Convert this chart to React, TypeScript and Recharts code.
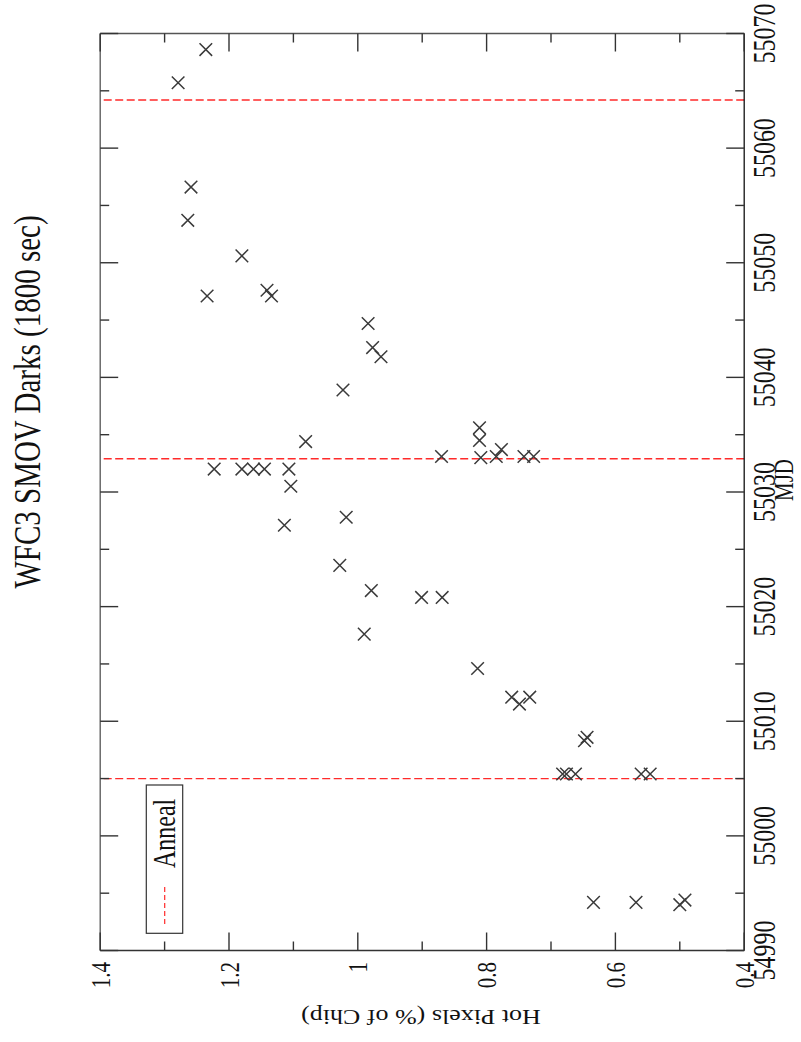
import React from 'react';
import { ScatterChart, Scatter, XAxis, YAxis, ReferenceLine } from 'recharts';

// MJD of each dark frame and its hot pixel fraction (% of chip)
const mjd = [
  55068.6, 55065.7, 55056.6, 55053.7, 55050.6, 55047.1, 55047.6, 55047.1, 55044.7, 55042.6,
  55041.8, 55038.9, 55034.4, 55032.0, 55032.0, 55032.0, 55032.0, 55032.0, 55030.5, 55027.1,
  55027.8, 55023.6, 55021.4, 55020.8, 55017.6, 55020.8, 55033.1, 55035.6, 55034.5, 55033.0,
  55033.1, 55033.7, 55033.1, 55033.1, 55014.6, 55012.1, 55011.5, 55012.1, 55008.3, 55008.6,
  55005.4, 55005.4, 55005.4, 55005.4, 55005.4, 54994.2, 54994.2, 54994.0, 54994.4,
];
const hotPixels = [
  1.236, 1.279, 1.259, 1.264, 1.180, 1.234, 1.141, 1.134, 0.984, 0.977,
  0.964, 1.023, 1.081, 1.223, 1.180, 1.162, 1.145, 1.107, 1.104, 1.114,
  1.018, 1.028, 0.979, 0.901, 0.990, 0.869, 0.870, 0.811, 0.811, 0.809,
  0.785, 0.777, 0.742, 0.727, 0.814, 0.761, 0.749, 0.733, 0.648, 0.644,
  0.682, 0.676, 0.662, 0.560, 0.546, 0.634, 0.568, 0.500, 0.492,
];
const annealMjd = [55005.0, 55032.9, 55064.2];
const mjdTicks = [
  54990, 54995, 55000, 55005, 55010, 55015, 55020, 55025, 55030,
  55035, 55040, 55045, 55050, 55055, 55060, 55065, 55070,
];
const hotTicks = [0.4, 0.5, 0.6, 0.7, 0.8, 0.9, 1.0, 1.1, 1.2, 1.3, 1.4];

const points = mjd.map((m, i) => ({ mjd: m, hot: hotPixels[i] }));

const FONT = '"Liberation Serif", "Times New Roman", serif';
const AXIS = '#333';
const RED = '#ff2a2a';
const STRETCH = 'scale(1,1.3)';

const Cross = (props: any) => {
  const { cx, cy } = props;
  const r = 6.3;
  return (
    <path
      d={`M${cx - r},${cy - r}L${cx + r},${cy + r}M${cx - r},${cy + r}L${cx + r},${cy - r}`}
      stroke="#3a3a3a"
      strokeWidth={1.5}
      fill="none"
    />
  );
};

const mjdTick = (side: 'bottom' | 'top') => (p: any) => {
  const v = p.payload.value;
  const major = Math.round(v) % 10 === 0;
  const len = major ? 18 : 9;
  const dir = side === 'bottom' ? -1 : 1;
  return (
    <g key={`${side}-${v}`}>
      <line x1={p.x} y1={p.y} x2={p.x} y2={p.y + dir * len} stroke={AXIS} strokeWidth={1.4} />
      {side === 'bottom' && major && (
        <text
          transform={`translate(${p.x},${p.y + 31}) ${STRETCH}`}
          textAnchor="middle"
          fontFamily={FONT}
          fontSize={24}
          fill="#111"
        >
          {v}
        </text>
      )}
    </g>
  );
};

const hotTick = (side: 'left' | 'right') => (p: any) => {
  const v = p.payload.value;
  const major = Math.round(v * 10) % 2 === 0;
  const len = major ? 18 : 9;
  const dir = side === 'left' ? 1 : -1;
  return (
    <g key={`${side}-${v}`}>
      <line x1={p.x} y1={p.y} x2={p.x + dir * len} y2={p.y} stroke={AXIS} strokeWidth={1.4} />
      {side === 'left' && major && (
        <text
          transform={`translate(${p.x - 11.5},${p.y}) ${STRETCH}`}
          textAnchor="end"
          dy="0.35em"
          fontFamily={FONT}
          fontSize={21}
          fill="#111"
        >
          {String(Math.round(v * 10) / 10)}
        </text>
      )}
    </g>
  );
};

// The plot is drawn landscape and then turned a quarter turn, like the original figure.
export default function App() {
  return (
    <div style={{ position: 'absolute', left: 0, top: 0, width: 801, height: 1042, overflow: 'hidden', background: '#fff' }}>
      <div
        style={{
          position: 'absolute',
          left: 0,
          top: 0,
          width: 1042,
          height: 801,
          transformOrigin: '0 0',
          transform: 'translate(0px, 1042px) rotate(-90deg)',
        }}
      >
        <ScatterChart width={1042} height={801} margin={{ top: 99.2, right: 32.5, bottom: 16.8, left: 31.5 }}>
          <XAxis
            xAxisId="b"
            dataKey="mjd"
            type="number"
            domain={[54990, 55070]}
            ticks={mjdTicks}
            interval={0}
            height={40}
            tickLine={false}
            tickSize={0}
            tickMargin={0}
            tick={mjdTick('bottom')}
            axisLine={{ stroke: '#111', strokeWidth: 1.3 }}
            allowDataOverflow
          />
          <XAxis
            xAxisId="t"
            dataKey="mjd"
            orientation="top"
            type="number"
            domain={[54990, 55070]}
            ticks={mjdTicks}
            interval={0}
            height={1}
            tickLine={false}
            tickSize={0}
            tickMargin={0}
            tick={mjdTick('top')}
            axisLine={{ stroke: '#555', strokeWidth: 1.3 }}
            allowDataOverflow
          />
          <YAxis
            yAxisId="l"
            dataKey="hot"
            type="number"
            domain={[0.4, 1.4]}
            ticks={hotTicks}
            interval={0}
            width={60}
            tickLine={false}
            tickSize={0}
            tickMargin={0}
            tick={hotTick('left')}
            axisLine={{ stroke: AXIS, strokeWidth: 1.3 }}
            allowDataOverflow
          />
          <YAxis
            yAxisId="r"
            dataKey="hot"
            orientation="right"
            type="number"
            domain={[0.4, 1.4]}
            ticks={hotTicks}
            interval={0}
            width={1}
            tickLine={false}
            tickSize={0}
            tickMargin={0}
            tick={hotTick('right')}
            axisLine={{ stroke: '#555', strokeWidth: 1.3 }}
            allowDataOverflow
          />
          {annealMjd.map((m) => (
            <ReferenceLine
              key={m}
              x={m}
              xAxisId="b"
              yAxisId="l"
              stroke={RED}
              strokeWidth={1.3}
              strokeDasharray="8 3.5"
            />
          ))}
          {/* same points on the mirror axes, drawn invisibly so the top/right frame gets its ticks */}
          <Scatter
            data={points}
            xAxisId="t"
            yAxisId="r"
            shape={() => <g />}
            isAnimationActive={false}
          />
          <Scatter
            data={points}
            xAxisId="b"
            yAxisId="l"
            shape={Cross}
            isAnimationActive={false}
          />
        </ScatterChart>
        <svg
          width={1042}
          height={801}
          style={{ position: 'absolute', left: 0, top: 0, pointerEvents: 'none' }}
        >
          <text
            transform={`translate(640,40) ${STRETCH}`}
            textAnchor="middle"
            fontFamily={FONT}
            fontSize={29}
            fill="#111"
          >
            WFC3 SMOV Darks (1800 sec)
          </text>
          <text
            transform={`translate(562,793) ${STRETCH}`}
            textAnchor="middle"
            fontFamily={FONT}
            fontSize={21}
            fill="#111"
          >
            MJD
          </text>
          <text
            transform={`translate(32,421) ${STRETCH} rotate(-90)`}
            textAnchor="middle"
            fontFamily={FONT}
            fontSize={20}
            fill="#111"
          >
            Hot Pixels (% of Chip)
          </text>
          <rect x={108.7} y={146.3} width={148.3} height={36.4} fill="#fff" stroke={AXIS} strokeWidth={1.2} />
          <line x1={118} y1={164.7} x2={157} y2={164.7} stroke={RED} strokeWidth={1.2} strokeDasharray="5 3" />
          <text
            transform={`translate(174,175) ${STRETCH}`}
            fontFamily={FONT}
            fontSize={24}
            fill="#111"
          >
            Anneal
          </text>
        </svg>
      </div>
    </div>
  );
}
